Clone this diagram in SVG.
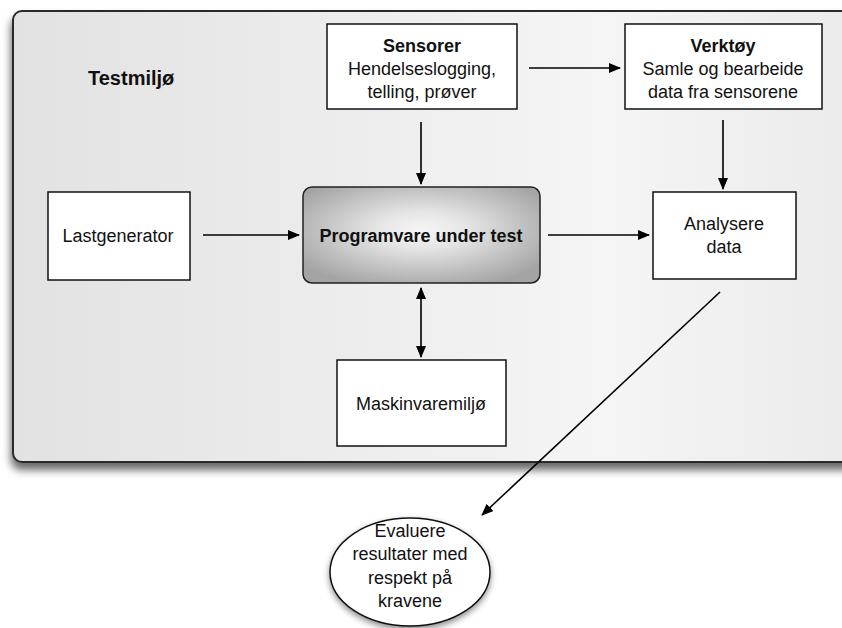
<svg xmlns="http://www.w3.org/2000/svg" width="842" height="628" viewBox="0 0 842 628">
  <defs>
    <linearGradient id="envFill" x1="0" y1="0" x2="1" y2="0">
      <stop offset="0" stop-color="#e2e2e2"/>
      <stop offset="0.7" stop-color="#f5f5f5"/>
      <stop offset="1" stop-color="#ebebeb"/>
    </linearGradient>
    <radialGradient id="sutFill" cx="0.5" cy="0.45" r="0.62">
      <stop offset="0" stop-color="#f6f6f6"/>
      <stop offset="0.3" stop-color="#e6e6e6"/>
      <stop offset="1" stop-color="#a4a4a4"/>
    </radialGradient>
    <filter id="shadow" x="-10%" y="-10%" width="130%" height="130%">
      <feDropShadow dx="-1" dy="7" stdDeviation="4.5" flood-color="#000" flood-opacity="0.6"/>
    </filter>
    <filter id="softShadow" x="-20%" y="-20%" width="140%" height="150%">
      <feDropShadow dx="0" dy="3" stdDeviation="3" flood-color="#000" flood-opacity="0.45"/>
    </filter>
    <marker id="head" viewBox="0 0 12 10" refX="11" refY="5" markerWidth="12" markerHeight="10" markerUnits="userSpaceOnUse" orient="auto-start-reverse">
      <path d="M0,0 L12,5 L0,10 z" fill="#000"/>
    </marker>
  </defs>
  <style>
    .box { fill: #fff; stroke: #111; stroke-width: 1.5; }
    .lbl { font-family: "Liberation Sans", Arial, sans-serif; font-size: 18px; fill: #111; text-anchor: middle; }
    .b { font-weight: bold; }
    .conn { stroke: #000; stroke-width: 1.6; fill: none; }
  </style>

  <!-- test environment container -->
  <g id="testmiljo">
    <rect x="13" y="11" width="845" height="451" rx="9" fill="url(#envFill)" stroke="#2a2a2a" stroke-width="2" filter="url(#shadow)"/>
    <text class="lbl b" x="88" y="85" style="text-anchor:start;font-size:20px">Testmiljø</text>
  </g>

  <g id="sensorer">
    <rect class="box" x="327" y="24" width="190" height="85"/>
    <text class="lbl b" x="422" y="52">Sensorer</text>
    <text class="lbl" x="422" y="75">Hendelseslogging,</text>
    <text class="lbl" x="422" y="98">telling, prøver</text>
  </g>

  <g id="verktoy">
    <rect class="box" x="625" y="24" width="197" height="85"/>
    <text class="lbl b" x="723" y="52">Verktøy</text>
    <text class="lbl" x="723" y="75">Samle og bearbeide</text>
    <text class="lbl" x="723" y="98">data fra sensorene</text>
  </g>

  <g id="lastgenerator">
    <rect class="box" x="48" y="192" width="142" height="88"/>
    <text class="lbl" x="118" y="242">Lastgenerator</text>
  </g>

  <g id="programvare">
    <rect x="303" y="187" width="237" height="96" rx="9" fill="url(#sutFill)" stroke="#222" stroke-width="1.5"/>
    <text class="lbl b" x="421" y="242">Programvare under test</text>
  </g>

  <g id="analysere">
    <rect class="box" x="653" y="192" width="143" height="87"/>
    <text class="lbl" x="724" y="230">Analysere</text>
    <text class="lbl" x="724" y="253">data</text>
  </g>

  <g id="maskinvare">
    <rect class="box" x="337" y="360" width="169" height="86"/>
    <text class="lbl" x="421" y="410">Maskinvaremiljø</text>
  </g>

  <g id="evaluere">
    <ellipse cx="410" cy="572" rx="80" ry="54" fill="#fff" stroke="#111" stroke-width="1.5" filter="url(#softShadow)"/>
    <text class="lbl" x="410" y="537">Evaluere</text>
    <text class="lbl" x="410" y="560">resultater med</text>
    <text class="lbl" x="410" y="584">respekt på</text>
    <text class="lbl" x="410" y="607">kravene</text>
  </g>

  <!-- connectors -->
  <g id="connectors">
    <line class="conn" x1="529" y1="68" x2="620" y2="68" marker-end="url(#head)"/>
    <line class="conn" x1="421" y1="122" x2="421" y2="184" marker-end="url(#head)"/>
    <line class="conn" x1="723" y1="120" x2="723" y2="189" marker-end="url(#head)"/>
    <line class="conn" x1="203" y1="235" x2="299" y2="235" marker-end="url(#head)"/>
    <line class="conn" x1="548" y1="235" x2="649" y2="235" marker-end="url(#head)"/>
    <line class="conn" x1="421" y1="288" x2="421" y2="357" marker-start="url(#head)" marker-end="url(#head)"/>
    <line class="conn" x1="720" y1="292" x2="482" y2="515" stroke-width="1.1" marker-end="url(#head)"/>
  </g>
</svg>
